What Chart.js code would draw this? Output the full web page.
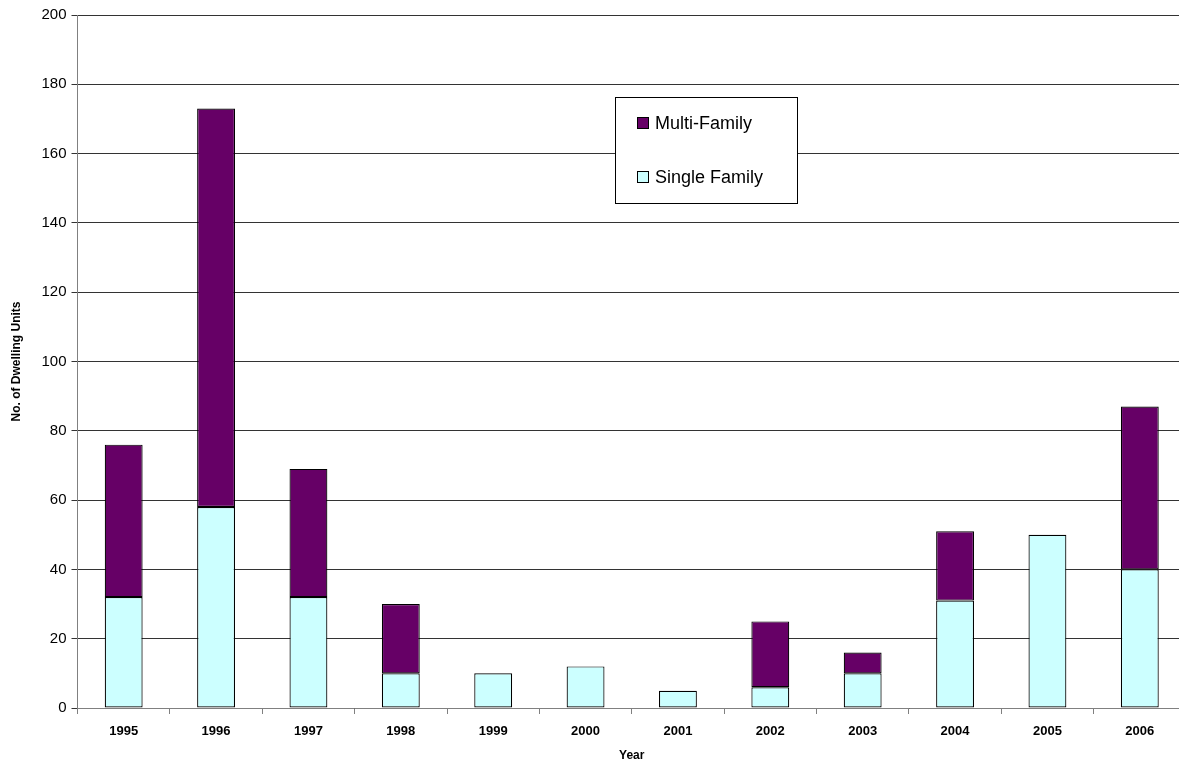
<!DOCTYPE html>
<html>
<head>
<meta charset="utf-8">
<script src="https://cdn.jsdelivr.net/npm/chart.js@4.4.1/dist/chart.umd.min.js"></script>
<style>
  html, body { margin: 0; padding: 0; background: #fff; overflow: hidden; }
  #wrap { width: 1186px; height: 763px; position: relative; }
</style>
</head>
<body>
<div id="wrap"><canvas id="dwellingChart"></canvas></div>
<script>
const years = ['1995','1996','1997','1998','1999','2000','2001','2002','2003','2004','2005','2006'];
const singleFamily = [32, 58, 32, 10, 10, 12, 5, 6, 10, 31, 50, 40];
const multiFamily = [44, 115, 37, 20, 0, 0, 0, 19, 6, 20, 0, 47];
const yTicks = [0, 20, 40, 60, 80, 100, 120, 140, 160, 180, 200];

const FONT = '"Liberation Sans", Arial, sans-serif';

// legend drawn inside the plot like the original
const boxLegend = {
  id: 'boxLegend',
  afterDraw(chart) {
    const ctx = chart.ctx;
    const x = 615, y = 97, w = 182, h = 106;
    ctx.save();
    ctx.fillStyle = '#fff';
    ctx.fillRect(x, y, w, h);
    ctx.strokeStyle = '#000';
    ctx.lineWidth = 1;
    ctx.strokeRect(x + 0.5, y + 0.5, w, h);
    const items = [chart.data.datasets[1], chart.data.datasets[0]];
    items.forEach((ds, i) => {
      const cy = y + 26 + i * 54;
      ctx.fillStyle = ds.backgroundColor;
      ctx.fillRect(x + 22, cy - 6, 11, 11);
      ctx.strokeStyle = '#000';
      ctx.strokeRect(x + 22.5, cy - 5.5, 11, 11);
      ctx.fillStyle = '#000';
      ctx.font = '18px ' + FONT;
      ctx.textBaseline = 'middle';
      ctx.fillText(ds.label, x + 40, cy + 1);
    });
    ctx.restore();
  }
};

const ctx = document.getElementById('dwellingChart').getContext('2d');
new Chart(ctx, {
  type: 'bar',
  data: {
    labels: years,
    datasets: [
      {
        label: 'Single Family',
        data: singleFamily,
        backgroundColor: '#CCFFFF',
        borderColor: '#000',
        borderWidth: 1.2,
        borderSkipped: false,
        barPercentage: 0.41,
        categoryPercentage: 1
      },
      {
        label: 'Multi-Family',
        data: multiFamily,
        backgroundColor: '#660066',
        borderColor: '#000',
        borderWidth: 1.2,
        borderSkipped: false,
        barPercentage: 0.41,
        categoryPercentage: 1
      }
    ]
  },
  options: {
    responsive: true,
    maintainAspectRatio: false,
    animation: false,
    layout: { padding: { top: 15, right: 0, left: 0, bottom: 0 } },
    plugins: {
      legend: { display: false },
      tooltip: { enabled: false }
    },
    scales: {
      x: {
        stacked: true,
        offset: true,
        afterFit(scale) { scale.height = 55; },
        grid: { drawOnChartArea: false, drawTicks: true, tickLength: 6, color: '#808080', offset: true },
        border: { color: '#808080', width: 1 },
        ticks: { color: '#000', font: { family: FONT, size: 13, weight: 'bold' }, padding: 10 },
        title: { display: true, text: 'Year', color: '#000', font: { family: FONT, size: 12, weight: 'bold' }, padding: { top: 2, bottom: 0 } }
      },
      y: {
        stacked: true,
        min: 0,
        max: 200,
        afterFit(scale) { scale.width = 77.5; },
        afterBuildTicks(scale) { scale.ticks = yTicks.map(v => ({ value: v })); },
        grid: { color: '#333', drawTicks: true, tickLength: 6 },
        border: { color: '#808080', width: 1 },
        ticks: { color: '#000', font: { family: FONT, size: 15 }, padding: 5 },
        title: { display: true, text: 'No. of Dwelling Units', color: '#000', font: { family: FONT, size: 12, weight: 'bold' }, padding: { top: 9, bottom: 4 } }
      }
    }
  },
  plugins: [boxLegend]
});
</script>
</body>
</html>
